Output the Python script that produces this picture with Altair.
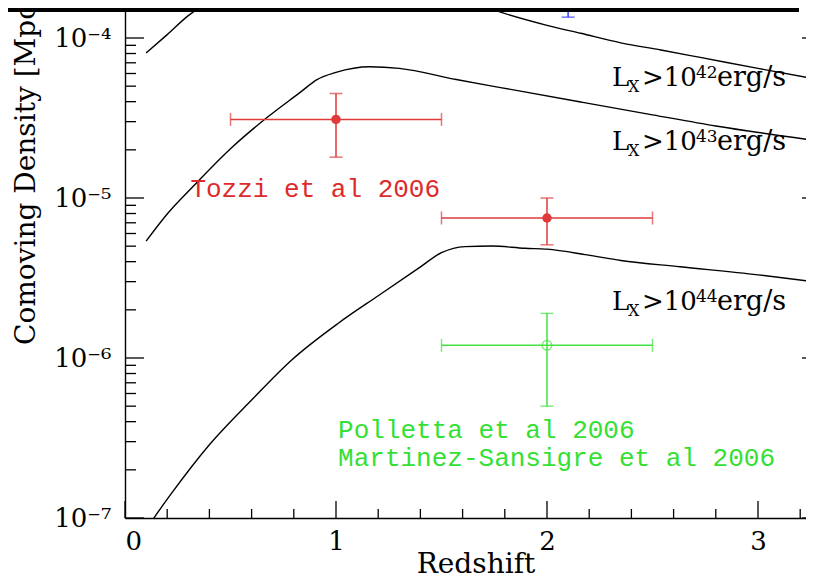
import altair as alt
import pandas as pd

# ---------------- data ----------------
# curve L_X > 1e42 erg/s
c42_z = [0.10, 0.20, 0.30, 0.50, 0.80, 1.00, 1.20, 1.50, 1.78, 2.00, 2.16, 2.35, 2.54, 2.72, 3.00, 3.27]
c42_n = [8.05e-5, 1.05e-4, 1.38e-4, 1.91e-4, 2.34e-4, 2.51e-4, 2.40e-4, 2.00e-4, 1.45e-4, 1.20e-4,
         1.07e-4, 9.33e-5, 8.41e-5, 7.59e-5, 6.46e-5, 5.55e-5]
# curve L_X > 1e43 erg/s
c43_z = [0.10, 0.20, 0.32, 0.51, 0.67, 0.83, 0.91, 1.00, 1.16, 1.30, 1.57, 1.78, 2.16, 2.50, 2.80, 3.27]
c43_n = [5.37e-6, 7.94e-6, 1.17e-5, 2.09e-5, 3.16e-5, 4.57e-5, 5.50e-5, 6.10e-5, 6.61e-5, 6.46e-5,
         5.50e-5, 4.90e-5, 3.98e-5, 3.31e-5, 2.82e-5, 2.29e-5]
# curve L_X > 1e44 erg/s
c44_z = [0.10, 0.139, 0.221, 0.395, 0.60, 0.79, 1.011, 1.20, 1.39, 1.50, 1.611, 1.738, 1.896, 2.00,
         2.19, 2.35, 2.63, 3.00, 3.27]
c44_n = [8.51e-8, 1.01e-7, 1.43e-7, 2.82e-7, 5.46e-7, 9.72e-7, 1.65e-6, 2.45e-6, 3.63e-6, 4.55e-6,
         4.97e-6, 5.01e-6, 4.85e-6, 4.79e-6, 4.41e-6, 4.07e-6, 3.72e-6, 3.31e-6, 2.99e-6]

# Tozzi et al 2006 (red)
red_z = [1.0, 2.0]
red_n = [3.1e-5, 7.5e-6]
red_nlo = [1.8e-5, 5.1e-6]
red_nhi = [4.5e-5, 1.0e-5]
red_zlo = [0.5, 1.5]
red_zhi = [1.5, 2.5]
# Polletta / Martinez-Sansigre 2006 (green)
grn_z = [2.0]
grn_n = [1.2e-6]
grn_nlo = [5.0e-7]
grn_nhi = [1.9e-6]
grn_zlo = [1.5]
grn_zhi = [2.5]
# blue point mostly hidden above the frame
blu_z = [2.1]
blu_nlo = [1.35e-4]
blu_nhi = [3.0e-4]

x_major = [0, 1, 2, 3]
x_minor = [0.2, 0.4, 0.6, 0.8, 1.2, 1.4, 1.6, 1.8, 2.2, 2.4, 2.6, 2.8, 3.2]
y_major = [1e-7, 1e-6, 1e-5, 1e-4]
y_major_labels = ["10⁻⁷", "10⁻⁶", "10⁻⁵", "10⁻⁴"]
y_minor = [m * d for d in [1e-7, 1e-6, 1e-5] for m in range(2, 10)]

curve_exp = ["42", "43", "44"]
curve_label_z = [2.308, 2.308, 2.308]
curve_label_n = [5.0e-5, 2.0e-5, 2.0e-6]   # text baselines

ref_labels = ["Tozzi et al 2006", "Polletta et al 2006", "Martinez-Sansigre et al 2006"]
ref_label_z = [0.31, 1.01, 1.01]
ref_label_n = [1.14e-5, 3.55e-7, 2.37e-7]
ref_label_c = ["#dd2a2a", "#33e033", "#33e033"]

x_title = "Redshift"
y_title = "Comoving Density [Mpc⁻³]"

# ---------------- layout ----------------
PX_PER_Z = 211
W, H = 681, 510
SERIF = "DejaVu Serif"
RED, GRN, BLU = "#e03a3a", "#44e044", "#3a3aff"

xs = alt.Scale(domain=[0, W / PX_PER_Z], nice=False, zero=False)
ys = alt.Scale(type="log", domain=[1e-7, 1.54e-4], nice=False)

label_expr = " : ".join(
    f"datum.value < {v*3:.0e} ? '{t}'" for v, t in zip(y_major[:-1], y_major_labels[:-1])
) + f" : '{y_major_labels[-1]}'"


def X(f):
    return alt.X(f"{f}:Q", scale=xs, title=None,
                 axis=alt.Axis(values=x_major, format="d"))


def Y(f):
    return alt.Y(f"{f}:Q", scale=ys, title=None,
                 axis=alt.Axis(values=y_major, labelExpr=label_expr))


curves = pd.DataFrame({
    "z": c42_z + c43_z + c44_z,
    "n": c42_n + c43_n + c44_n,
    "s": ["42"] * len(c42_z) + ["43"] * len(c43_z) + ["44"] * len(c44_z),
})

lines = alt.Chart(curves).mark_line(color="black", strokeWidth=1.4, clip=True,
                                    interpolate="monotone").encode(
    x=X("z"), y=Y("n"), detail="s:N")


def errset(z, n, nlo, nhi, zlo, zhi, color, filled):
    d = pd.DataFrame({"z": z, "n": n, "nlo": nlo, "nhi": nhi, "zlo": zlo, "zhi": zhi})
    vbar = alt.Chart(d).mark_rule(color=color, strokeWidth=1.5).encode(
        x=X("z"), y=Y("nlo"), y2="nhi:Q")
    hbar = alt.Chart(d).mark_rule(color=color, strokeWidth=1.5).encode(
        x=X("zlo"), x2="zhi:Q", y=Y("n"))
    cap_lo = alt.Chart(d).mark_tick(color=color, orient="horizontal", size=13, thickness=1.5).encode(
        x=X("z"), y=Y("nlo"))
    cap_hi = alt.Chart(d).mark_tick(color=color, orient="horizontal", size=13, thickness=1.5).encode(
        x=X("z"), y=Y("nhi"))
    cap_l = alt.Chart(d).mark_tick(color=color, orient="vertical", size=13, thickness=1.5).encode(
        x=X("zlo"), y=Y("n"))
    cap_r = alt.Chart(d).mark_tick(color=color, orient="vertical", size=13, thickness=1.5).encode(
        x=X("zhi"), y=Y("n"))
    if filled:
        pt = alt.Chart(d).mark_point(filled=True, color=color, size=90, opacity=1).encode(x=X("z"), y=Y("n"))
    else:
        pt = alt.Chart(d).mark_point(filled=False, color=color, size=90, strokeWidth=1.5).encode(x=X("z"), y=Y("n"))
    return [vbar, hbar, cap_lo, cap_hi, cap_l, cap_r, pt]


red_layers = errset(red_z, red_n, red_nlo, red_nhi, red_zlo, red_zhi, RED, True)
grn_layers = errset(grn_z, grn_n, grn_nlo, grn_nhi, grn_zlo, grn_zhi, GRN, False)

blu = pd.DataFrame({"z": blu_z, "nlo": blu_nlo, "nhi": blu_nhi})
blu_bar = alt.Chart(blu).mark_rule(color=BLU, strokeWidth=1.5, clip=True).encode(x=X("z"), y=Y("nlo"), y2="nhi:Q")
blu_cap = alt.Chart(blu).mark_tick(color=BLU, orient="horizontal", size=13, thickness=1.5).encode(x=X("z"), y=Y("nlo"))

# inward ticks (right axis sits just beyond the visible area)
ymaj = pd.DataFrame({"n": y_major})
ymin = pd.DataFrame({"n": y_minor})
xmaj = pd.DataFrame({"z": x_major})
xmin = pd.DataFrame({"z": x_minor})
tk = dict(color="black", strokeWidth=1.3)
ticks = [
    alt.Chart(ymaj).mark_rule(**tk).encode(y=Y("n"), x=alt.value(0), x2=alt.value(19)),
    alt.Chart(ymin).mark_rule(**tk).encode(y=Y("n"), x=alt.value(0), x2=alt.value(11)),
    alt.Chart(ymaj).mark_rule(**tk).encode(y=Y("n"), x=alt.value(W - 4), x2=alt.value(W)),
    alt.Chart(xmaj).mark_rule(**tk).encode(x=X("z"), y=alt.value(H), y2=alt.value(H - 17)),
    alt.Chart(xmin).mark_rule(**tk).encode(x=X("z"), y=alt.value(H), y2=alt.value(H - 9)),
]

# curve labels  L_X > 10^NN erg/s, built from pieces
cl = pd.DataFrame({"z": curve_label_z, "n": curve_label_n, "e": curve_exp})


def piece(text_enc, dx, dy, size):
    return alt.Chart(cl).mark_text(align="left", baseline="alphabetic", font=SERIF, fontSize=size,
                                   color="black", dx=dx, dy=dy).encode(
        x=X("z"), y=Y("n"), text=text_enc)


curve_text = [
    piece(alt.value("L"), 0, 0, 26),
    piece(alt.value("X"), 16, 6, 16),
    piece(alt.value(">10"), 30, 0, 26),
    piece("e:N", 84, -8, 17),
    piece(alt.value("erg/s"), 105, 0, 27),
]

rl = pd.DataFrame({"z": ref_label_z, "n": ref_label_n, "t": ref_labels, "c": ref_label_c})
ref_text = alt.Chart(rl).mark_text(align="left", baseline="middle", font="Liberation Mono",
                                   fontSize=26).encode(
    x=X("z"), y=Y("n"), text="t:N", color=alt.Color("c:N", scale=None))

ytitle = alt.Chart(pd.DataFrame({"t": [y_title]})).mark_text(
    align="left", baseline="middle", angle=270, font=SERIF, fontSize=28, color="black"
).encode(x=alt.value(-98), y=alt.value(337), text="t:N")

xtitle = alt.Chart(pd.DataFrame({"t": [x_title]})).mark_text(
    align="center", baseline="alphabetic", font=SERIF, fontSize=28, color="black"
).encode(x=alt.value(351), y=alt.value(565), text="t:N")

# frame bar at the top (partially visible legend box)
topbar = alt.Chart(pd.DataFrame({"a": [0]})).mark_rect(color="black").encode(
    x=alt.value(-125), x2=alt.value(674), y=alt.value(0), y2=alt.value(4))

chart = alt.layer(
    lines, *ticks, *red_layers, *grn_layers, blu_bar, blu_cap, *curve_text, ref_text,
    ytitle, xtitle, topbar
).properties(
    width=W, height=H,
    autosize=alt.AutoSizeParams(type="none"),
    padding={"left": 117, "top": 0, "right": 0, "bottom": 62},
).configure_view(strokeWidth=0).configure_axis(
    grid=False, ticks=False, domainColor="black", domainWidth=1.4,
    labelFont=SERIF, labelFontSize=26, labelColor="black",
).configure_axisX(labelPadding=10).configure_axisY(labelPadding=14)

chart.save("out.html", embed_options={"renderer": "svg", "actions": False})
